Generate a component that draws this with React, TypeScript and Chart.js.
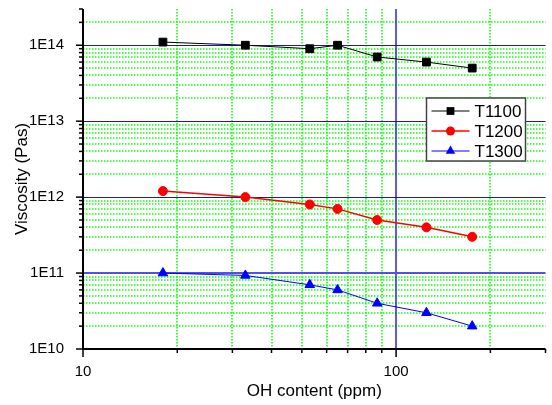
import React, { useEffect, useRef } from 'react';
import { Chart, registerables } from 'chart.js';

Chart.register(...registerables);

const ohContent = [18, 33, 53, 65, 87, 125, 175];
const t1100 = [1.1e14, 1e14, 9e13, 1e14, 7e13, 6e13, 5e13];
const t1200 = [1.2e12, 1e12, 8e11, 7e11, 5e11, 4e11, 3e11];
const t1300 = [1e11, 9.3e10, 7e10, 6e10, 4e10, 3e10, 2e10];
const seriesNames = ['T1100', 'T1200', 'T1300'];
const xLabel = 'OH content (ppm)';
const yLabel = 'Viscosity (Pas)';

const xTickValues = [10, 20, 30, 40, 50, 60, 70, 80, 90, 100, 200, 300];
const yDecades = [1e10, 1e11, 1e12, 1e13, 1e14];
const yMinorMultipliers = [2, 3, 4, 5, 6, 7, 8, 9];
const yTopMinor = [2e14, 3e14];
const highlightedY = 1e11;

const FONT = "'Liberation Sans', Arial, Helvetica, sans-serif";

const isMajor = (v: number) => {
  const l = Math.log10(v);
  return Math.abs(l - Math.round(l)) < 1e-9;
};

const yTickValues: number[] = [];
yDecades.forEach((d, i) => {
  yTickValues.push(d);
  if (i < yDecades.length - 1) yMinorMultipliers.forEach((m) => yTickValues.push(m * d));
});
yTopMinor.forEach((v) => yTickValues.push(v));

const toPoints = (ys: number[]) => ohContent.map((x, i) => ({ x, y: ys[i] }));

const gridPlugin = {
  id: 'customGrid',
  beforeDatasetsDraw(chart: any) {
    const { ctx, chartArea, scales } = chart;
    const { left, right, top, bottom } = chartArea;
    const xs = scales.x;
    const ys = scales.y;
    const line = (x1: number, y1: number, x2: number, y2: number) => {
      ctx.beginPath();
      ctx.moveTo(x1, y1);
      ctx.lineTo(x2, y2);
      ctx.stroke();
    };
    ctx.save();
    // minor grid
    ctx.lineWidth = 1.6;
    ctx.strokeStyle = '#11ff11';
    ctx.setLineDash([1.5, 1.5]);
    for (const t of xs.ticks) {
      if (isMajor(t.value)) continue;
      const p = Math.round(xs.getPixelForValue(t.value));
      if (p >= right - 1 || p <= left + 1) continue;
      line(p, top, p, bottom);
    }
    for (const t of ys.ticks) {
      if (isMajor(t.value)) continue;
      const p = Math.round(ys.getPixelForValue(t.value));
      if (p <= top + 1 || p >= bottom - 1) continue;
      line(left, p, right, p);
    }
    // major grid
    ctx.setLineDash([]);
    for (const t of xs.ticks) {
      if (!isMajor(t.value)) continue;
      const p = Math.round(xs.getPixelForValue(t.value));
      if (p >= right - 1 || p <= left + 1) continue;
      ctx.lineWidth = 1.5;
      ctx.strokeStyle = '#2a2ac8';
      line(p, top, p, bottom);
    }
    for (const t of ys.ticks) {
      if (!isMajor(t.value)) continue;
      const p = Math.round(ys.getPixelForValue(t.value));
      if (p <= top + 1 || p >= bottom - 1) continue;
      if (Math.abs(t.value - highlightedY) < 1) {
        ctx.lineWidth = 2;
        ctx.strokeStyle = '#5050f0';
        line(left, p, right, p);
      } else {
        ctx.lineWidth = 1;
        ctx.strokeStyle = '#1c1c9a';
        line(left, p + 0.5, right, p + 0.5);
      }
    }
    // ticks
    ctx.strokeStyle = '#000';
    ctx.lineWidth = 1.5;
    for (const t of xs.ticks) {
      const p = xs.getPixelForValue(t.value);
      line(p, bottom, p, bottom + (isMajor(t.value) ? 8 : 4));
    }
    for (const t of ys.ticks) {
      const p = ys.getPixelForValue(t.value);
      line(left, p, left - (isMajor(t.value) ? 7 : 4), p);
    }
    // axes
    ctx.lineWidth = 2;
    line(left, top, left, bottom + 1);
    line(left - 1, bottom, right, bottom);
    ctx.restore();
  },
};

const legendPlugin = {
  id: 'customLegend',
  afterDatasetsDraw(chart: any) {
    const { ctx, chartArea } = chart;
    const bx = chartArea.right - 119;
    const by = chartArea.top + 89;
    const bw = 99;
    const bh = 63;
    ctx.save();
    ctx.fillStyle = '#fff';
    ctx.fillRect(bx, by, bw, bh);
    ctx.strokeStyle = '#444';
    ctx.lineWidth = 1.5;
    ctx.strokeRect(bx, by, bw, bh);
    chart.data.datasets.forEach((ds: any, i: number) => {
      const cy = by + 13 + i * 20;
      const x1 = bx + 5;
      const x2 = bx + 43;
      const cx = (x1 + x2) / 2;
      ctx.strokeStyle = ds.borderColor;
      ctx.lineWidth = ds.borderWidth;
      ctx.beginPath();
      ctx.moveTo(x1, cy);
      ctx.lineTo(x2, cy);
      ctx.stroke();
      ctx.fillStyle = ds.pointBackgroundColor;
      ctx.beginPath();
      const r = ds.pointRadius;
      if (ds.pointStyle === 'rect') {
        const s = Math.SQRT1_2 * r;
        ctx.rect(cx - s, cy - s, 2 * s, 2 * s);
      } else if (ds.pointStyle === 'circle') {
        ctx.arc(cx, cy, r, 0, Math.PI * 2);
      } else {
        ctx.moveTo(cx, cy - r);
        ctx.lineTo(cx + Math.sin((2 * Math.PI) / 3) * r, cy + r / 2);
        ctx.lineTo(cx - Math.sin((2 * Math.PI) / 3) * r, cy + r / 2);
        ctx.closePath();
      }
      ctx.fill();
      ctx.fillStyle = '#000';
      ctx.font = `17px ${FONT}`;
      ctx.textBaseline = 'middle';
      ctx.textAlign = 'left';
      ctx.fillText(ds.label, bx + 48, cy + 1);
    });
    ctx.restore();
  },
};

export default function App() {
  const ref = useRef<HTMLCanvasElement | null>(null);
  useEffect(() => {
    document.body.style.margin = '0';
    if (!ref.current) return;
    const colors = ['#000000', '#ff0000', '#0000ff'];
    const styles = ['rect', 'circle', 'triangle'];
    const radii = [5.5, 4.5, 5.5];
    const widths = [1, 1.5, 1];
    const series = [t1100, t1200, t1300];
    const chart = new Chart(ref.current, {
      type: 'scatter',
      data: {
        datasets: series.map((s, i) => ({
          label: seriesNames[i],
          data: toPoints(s),
          showLine: true,
          borderColor: colors[i],
          backgroundColor: colors[i],
          pointBackgroundColor: colors[i],
          pointBorderColor: colors[i],
          borderWidth: widths[i],
          pointBorderWidth: 1,
          pointStyle: styles[i],
          pointRadius: radii[i],
        })),
      },
      options: {
        animation: false,
        responsive: false,
        devicePixelRatio: 1,
        layout: { padding: { top: 9, right: 4, left: 0, bottom: 0 } },
        plugins: {
          legend: { display: false },
          tooltip: { enabled: false },
        },
        scales: {
          x: {
            type: 'logarithmic',
            min: 10,
            max: 300,
            grid: { display: false },
            border: { display: false },
            afterBuildTicks: (scale: any) => {
              scale.ticks = xTickValues.map((v) => ({ value: v, major: isMajor(v) }));
            },
            ticks: {
              autoSkip: false,
              maxRotation: 0,
              padding: 6,
              color: '#000',
              font: { family: FONT, size: 15 },
              callback: (v: any) => (isMajor(Number(v)) ? String(Math.round(Number(v))) : ''),
            },
            title: {
              display: true,
              text: xLabel,
              color: '#000',
              font: { family: FONT, size: 17 },
              padding: { top: 0, bottom: 3 },
            },
            afterFit: (scale: any) => {
              scale.height = 56;
              scale.paddingLeft = 0;
              scale.paddingRight = 0;
            },
          },
          y: {
            type: 'logarithmic',
            min: 1e10,
            max: 3e14,
            grid: { display: false },
            border: { display: false },
            afterBuildTicks: (scale: any) => {
              scale.ticks = yTickValues.map((v) => ({ value: v, major: isMajor(v) }));
            },
            ticks: {
              autoSkip: false,
              padding: 11,
              color: '#000',
              font: { family: FONT, size: 15 },
              callback: (v: any) => (isMajor(Number(v)) ? '1E' + Math.round(Math.log10(Number(v))) : ''),
            },
            title: {
              display: true,
              text: yLabel,
              color: '#000',
              font: { family: FONT, size: 17 },
              padding: { top: 12, bottom: 0 },
            },
            afterFit: (scale: any) => {
              scale.width = 83;
              scale.paddingTop = 0;
              scale.paddingBottom = 0;
            },
          },
        },
      },
      plugins: [gridPlugin, legendPlugin],
    });
    return () => chart.destroy();
  }, []);
  return (
    <div style={{ width: 552, height: 405 }}>
      <canvas ref={ref} width={552} height={405} />
    </div>
  );
}
